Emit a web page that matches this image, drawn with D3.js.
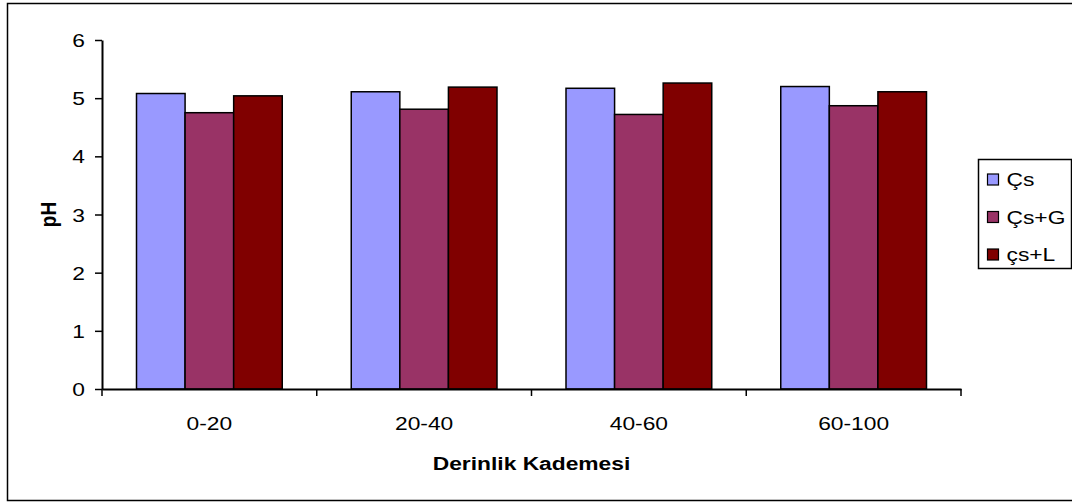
<!DOCTYPE html>
<html>
<head>
<meta charset="utf-8">
<script src="https://cdn.jsdelivr.net/npm/d3@7"></script>
<style>
  html, body { margin: 0; padding: 0; background: #fff; }
  svg { display: block; font-family: "Liberation Sans", Arial, sans-serif; }
</style>
</head>
<body>
<svg id="chart" width="1072" height="503"></svg>
<script>
// Soil depth classes and pH readings per treatment
const depths = ["0-20", "20-40", "40-60", "60-100"];
const seriesNames = ["Çs", "Çs+G", "çs+L"];
const phCs  = [5.08, 5.11, 5.17, 5.20];
const phCsG = [4.75, 4.81, 4.72, 4.87];
const phCsL = [5.04, 5.19, 5.26, 5.11];
const yTicks = [0, 1, 2, 3, 4, 5, 6];
const colors = ["#9999FF", "#993366", "#800000"];

const seriesValues = [phCs, phCsG, phCsL];
const rows = depths.map((d, i) => ({
  depth: d,
  values: seriesNames.map((s, k) => ({ name: s, value: seriesValues[k][i], k }))
}));

const svg = d3.select("#chart");
const plot = { left: 102, right: 961, top: 40, bottom: 389 };
const fontSize = 19;
const textStretch = 1.2;

// outer frame
svg.append("rect")
  .attr("x", 7.5).attr("y", 3.5)
  .attr("width", 1072).attr("height", 497)
  .attr("fill", "#fff").attr("stroke", "#000").attr("stroke-width", 1.5);

const x0 = d3.scaleBand().domain(depths).range([plot.left, plot.right]).paddingInner(0).paddingOuter(0);
const groupPad = 34.5;
const x1 = d3.scaleBand().domain(seriesNames).range([groupPad, x0.bandwidth() - groupPad]).padding(0);
const y = d3.scaleLinear().domain([0, 6]).range([plot.bottom, plot.top]);

// bars
const groups = svg.append("g").selectAll("g")
  .data(rows).join("g")
  .attr("transform", d => `translate(${x0(d.depth)},0)`);

groups.selectAll("rect")
  .data(d => d.values).join("rect")
  .attr("x", d => x1(d.name))
  .attr("y", d => y(d.value))
  .attr("width", x1.bandwidth())
  .attr("height", d => y(0) - y(d.value))
  .attr("fill", d => colors[d.k])
  .attr("stroke", "#000")
  .attr("stroke-width", 1.5);

// y axis
const yAxis = svg.append("g")
  .attr("transform", `translate(${plot.left},0)`)
  .call(d3.axisLeft(y).tickValues(yTicks).tickSize(7).tickSizeOuter(0).tickFormat(d3.format("d")));
yAxis.select(".domain").attr("stroke", "#000").attr("stroke-width", 2);
yAxis.selectAll(".tick line").attr("stroke", "#000").attr("stroke-width", 1.5);
yAxis.selectAll(".tick text")
  .attr("font-size", fontSize).attr("fill", "#000")
  .attr("x", 0).attr("dy", "0.35em")
  .attr("text-anchor", "end")
  .attr("transform", `translate(-17,0) scale(${textStretch},1)`);

// x axis
const xAxis = svg.append("g")
  .attr("transform", `translate(0,${plot.bottom})`)
  .call(d3.axisBottom(x0).tickSize(0).tickSizeOuter(0));
xAxis.select(".domain").attr("stroke", "#000").attr("stroke-width", 2);
xAxis.selectAll(".tick line").remove();
xAxis.selectAll(".tick text")
  .attr("font-size", fontSize).attr("fill", "#000")
  .attr("y", 0).attr("dy", 0)
  .attr("transform", `translate(0,41) scale(${textStretch},1)`);

// category separators on the x axis
const bounds = depths.map(d => x0(d)).concat([plot.right]);
svg.append("g").selectAll("line")
  .data(bounds).join("line")
  .attr("x1", d => d).attr("x2", d => d)
  .attr("y1", plot.bottom).attr("y2", plot.bottom + 7)
  .attr("stroke", "#000").attr("stroke-width", 1.5);

// axis titles
svg.append("text")
  .attr("transform", `translate(${(plot.left + plot.right) / 2},470) scale(${textStretch},1)`)
  .attr("text-anchor", "middle")
  .attr("font-size", fontSize).attr("font-weight", "bold")
  .text("Derinlik Kademesi");

svg.append("text")
  .attr("transform", `translate(56,${(plot.top + plot.bottom) / 2}) rotate(-90) scale(1,${textStretch})`)
  .attr("text-anchor", "middle")
  .attr("font-size", fontSize).attr("font-weight", "bold")
  .text("pH");

// legend
const legend = svg.append("g").attr("transform", "translate(978,159)");
legend.append("rect")
  .attr("x", 0.5).attr("y", 0.5).attr("width", 93).attr("height", 109)
  .attr("fill", "#fff").attr("stroke", "#000").attr("stroke-width", 1.5);
const items = legend.selectAll("g.item")
  .data(seriesNames).join("g")
  .attr("class", "item")
  .attr("transform", (d, i) => `translate(9.5,${20.5 + i * 37.5})`);
items.append("rect")
  .attr("x", 0).attr("y", -5.5).attr("width", 11).attr("height", 11)
  .attr("fill", (d, i) => colors[i]).attr("stroke", "#000").attr("stroke-width", 1.2);
items.append("text")
  .attr("transform", `translate(19,0) scale(${textStretch},1)`)
  .attr("dy", "0.35em")
  .attr("font-size", fontSize).attr("fill", "#000")
  .text(d => d);
</script>
</body>
</html>
